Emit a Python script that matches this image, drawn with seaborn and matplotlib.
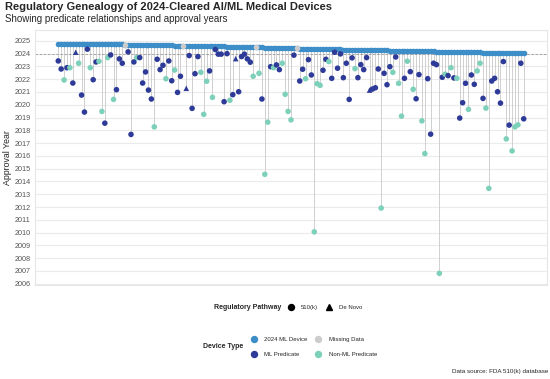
import numpy as np
import pandas as pd
import matplotlib.pyplot as plt
from matplotlib.lines import Line2D
import seaborn as sns

sns.set_theme(style="whitegrid")
plt.rcParams['font.family'] = ['Liberation Sans', 'DejaVu Sans']

nan = np.nan

# decision year of each 2024 device (left to right)
device_year = (
    [2024.79, 2024.79, 2024.78, 2024.78, 2024.78, 2024.77, 2024.77, 2024.77, 2024.76, 2024.76,
     2024.76, 2024.76, 2024.75, 2024.75, 2024.75, 2024.75, 2024.74, 2024.74, 2024.74, 2024.73,
     2024.73, 2024.73, 2024.72, 2024.71]
    + [2024.69, 2024.69, 2024.68, 2024.68, 2024.68, 2024.67, 2024.67, 2024.67, 2024.66, 2024.66,
       2024.66, 2024.65, 2024.65, 2024.65, 2024.64, 2024.64, 2024.63, 2024.63, 2024.63, 2024.62]
    + [2024.60, 2024.60, 2024.59, 2024.59, 2024.59, 2024.58, 2024.58, 2024.58, 2024.57, 2024.57,
       2024.57, 2024.56, 2024.56, 2024.56, 2024.55, 2024.55, 2024.55, 2024.54, 2024.54, 2024.54,
       2024.53, 2024.53, 2024.53, 2024.52, 2024.51]
    + [2024.49, 2024.49, 2024.48, 2024.48, 2024.48, 2024.47, 2024.47, 2024.46, 2024.46, 2024.46,
       2024.45, 2024.45, 2024.44, 2024.43]
    + [2024.38, 2024.38, 2024.37, 2024.37, 2024.37, 2024.36, 2024.36, 2024.35, 2024.35, 2024.35,
       2024.34, 2024.34, 2024.33, 2024.33, 2024.33, 2024.32, 2024.32, 2024.31, 2024.31, 2024.30,
       2024.30, 2024.29, 2024.29, 2024.28, 2024.28, 2024.27, 2024.27, 2024.26, 2024.26, 2024.25,
       2024.25, 2024.24, 2024.24, 2024.23, 2024.23, 2024.22, 2024.22, 2024.21, 2024.21, 2024.20,
       2024.20, 2024.19, 2024.19, 2024.18, 2024.18, 2024.17, 2024.17, 2024.16, 2024.16, 2024.15,
       2024.15, 2024.14, 2024.14, 2024.13, 2024.13, 2024.12, 2024.12, 2024.11, 2024.11, 2024.10,
       2024.10, 2024.09, 2024.09, 2024.08, 2024.08, 2024.07, 2024.07, 2024.07, 2024.06, 2024.06,
       2024.06, 2024.05, 2024.05, 2024.05, 2024.04, 2024.04, 2024.04, 2024.03]
)

# approval year of the predicate of each device (nan = missing)
pred_year = (
    [2023.43, 2022.80, 2021.94, 2022.90, 2022.90, 2021.70, 2024.11, 2023.25, 2020.76, 2019.43,
     2024.35, 2022.90, 2021.96, 2023.35, 2023.40, 2019.48, 2018.56, 2023.69, 2023.90, 2020.42,
     2021.18, 2023.59, 2023.25, nan]
    + [2024.14, 2017.68, 2023.35, 2023.69, 2023.69, 2021.70, 2022.57, 2021.15, 2020.45, 2018.27,
       2023.56, 2022.75, 2023.09, 2022.04, 2023.43, 2021.88, 2022.72, 2020.97, 2022.23, nan]
    + [2021.29, 2023.85, 2019.72, 2022.43, 2023.77, 2022.54, 2019.25, 2021.84, 2022.65, 2020.58,
       2024.32, 2023.96, 2023.96, 2020.24, 2024.00, 2020.35, 2020.79, 2023.61, 2021.02, 2023.77,
       2023.96, 2023.59, 2023.33, 2022.23, nan]
    + [2022.46, 2020.45, 2014.56, 2018.64, 2022.98, 2022.90, 2023.12, 2022.75, 2023.25, 2020.82,
       2019.48, 2018.82, 2023.88, nan]
    + [2021.86, 2022.78, 2022.04, 2023.53, 2022.33, 2010.06, 2021.65, 2021.52, 2022.70, 2023.56,
       2023.38, 2022.07, 2024.11, 2022.86, 2023.98, 2022.12, 2023.25, 2020.42, 2023.67, 2022.83,
       2022.12, 2023.14, 2022.75, 2023.69, 2021.15, 2021.23, 2021.33, 2022.80, 2011.92, 2022.46,
       2021.57, 2022.98, 2022.54, 2023.74, 2021.68, 2019.11, 2022.07, 2023.41, 2022.59, 2021.21,
       2020.47, 2022.36, 2018.74, 2016.18, 2022.04, 2017.70, 2023.25, 2023.14, 2006.81, 2022.15,
       2022.39, 2022.28, 2022.90, 2022.10, 2022.07, 2018.96, 2020.16, 2021.68, 2019.64, 2022.33,
       2021.60, 2022.65, 2023.25, 2020.50, 2019.74, 2013.46, 2021.86, 2022.07, 2021.02, 2020.13,
       2023.38, 2017.33, 2018.41, 2016.39, 2018.27, 2018.43, 2023.25, 2018.90]
)

# M = ML predicate, N = non-ML predicate, X = missing data
pred_type_codes = (
    "MMNMNMMNMM" "MNMMNNMNMN" "MMM" "X"
    "MMMNMMMMMN" "MMMNMMNMM" "X"
    "MMMMMNNNMN" "MMMMMNMMMM" "MMMN" "X"
    "NMNNMNMMNN" "NNM" "X"
    "MMNMMNNNMM" "NMMMMMMMMN" "MMMMMMMMNM" "MMNMNNMNMN"
    "MMNNMMMMNM" "NMNMNMMMNM" "MNNMNNMMMM" "MNMNNNMM"
)

# k = 510(k), d = De Novo
pathway_codes = (
    "kkkkkkdkkk" "kkkkkkkkkk" "kkk" "k"
    "kkkkkkkkkk" "kkkkkkkkk" "k"
    "dkkkkkkkkk" "kkkkkkkdkk" "kkkk" "k"
    "kkkkkkkkkk" "kkk" "k"
    "kkkkkkkkkk" "kkkkkkkkkk" "kkkkdkkkkk" "kkkkkkkkkk"
    "kkkkkkkkkk" "kkkkkkkkkk" "kkkkkkkkkk" "kkkkkkkk"
)

type_names = {"M": "ML Predicate", "N": "Non-ML Predicate", "X": "Missing Data"}
path_names = {"k": "510(k)", "d": "De Novo"}

palette = {
    "2024 ML Device": "#3C8DC8",
    "ML Predicate": "#2D3A97",
    "Non-ML Predicate": "#7DD0B9",
    "Missing Data": "#CCCCCC",
}

df = pd.DataFrame({
    "device": np.arange(len(device_year)),
    "device_year": device_year,
    "pred_year": pred_year,
    "pred_type": [type_names[c] for c in pred_type_codes],
    "pathway": [path_names[c] for c in pathway_codes],
})
has_pred = df.dropna(subset=["pred_year"])
missing = df[df["pred_type"] == "Missing Data"]

fig = plt.figure(figsize=(5.5, 3.79), dpi=100)
ax = fig.add_axes([35 / 550, 1 - 285 / 379, 512 / 550, 255 / 379])

# connecting lines and the 2024 reference line
ax.vlines(has_pred["device"], has_pred["pred_year"], has_pred["device_year"],
          color="#c9c9c9", lw=0.6, zorder=1)
ax.axhline(2024, color="#9a9a9a", lw=0.6, ls=(0, (3, 2)), zorder=1.5)

sns.scatterplot(data=df, x="device", y="device_year", color=palette["2024 ML Device"],
                s=16, linewidth=0, ax=ax, zorder=2, legend=False)
sns.scatterplot(data=missing, x="device", y="device_year", color=palette["Missing Data"],
                s=16, linewidth=0, ax=ax, zorder=3, legend=False)
sns.scatterplot(data=has_pred, x="device", y="pred_year", hue="pred_type", style="pathway",
                markers={"510(k)": "o", "De Novo": "^"}, palette=palette,
                s=16, linewidth=0, ax=ax, zorder=4, legend=False)

ax.set_xlim(-8, 168)
ax.set_ylim(2005.9, 2025.85)
ax.set_yticks(range(2006, 2026))
ax.set_xticks([])
ax.set_xlabel("")
ax.set_ylabel("Approval Year", fontsize=6.3, color="#222222")
ax.yaxis.set_label_coords(-0.045, 0.5)
ax.tick_params(axis="y", labelsize=5.2, colors="#555555", length=0, pad=3)
ax.grid(axis="y", color="#ebebeb", lw=0.8)
ax.grid(axis="x", visible=False)
for sp in ax.spines.values():
    sp.set_color("#e6e6e6")
    sp.set_linewidth(0.8)

fig.text(5 / 550, 1 - 7 / 379, "Regulatory Genealogy of 2024-Cleared AI/ML Medical Devices",
         fontsize=8, fontweight="bold", va="center", ha="left")
fig.text(5 / 550, 1 - 19 / 379, "Showing predicate relationships and approval years",
         fontsize=7, va="center", ha="left")
fig.text(548 / 550, 1 - 372 / 379, "Data source: FDA 510(k) database",
         fontsize=4.5, va="center", ha="right")

# legends
h1 = [Line2D([], [], marker="o", ls="", color="black", markersize=4.3),
      Line2D([], [], marker="^", ls="", color="black", markersize=4.3)]
fig.legend(h1, ["510(k)", "De Novo"], loc="center left",
           bbox_to_anchor=(288 / 550, 1 - 307.7 / 379), ncol=2, frameon=False,
           fontsize=4.3, handlelength=1, handletextpad=1.2, columnspacing=1.3,
           borderpad=0, borderaxespad=0)
fig.text(281 / 550, 1 - 307.7 / 379, "Regulatory Pathway", fontsize=5,
         fontweight="bold", va="center", ha="right")

order = ["2024 ML Device", "ML Predicate", "Missing Data", "Non-ML Predicate"]
h2 = [Line2D([], [], marker="o", ls="", color=palette[k], markersize=4.3) for k in order]
fig.legend(h2, order, loc="center left",
           bbox_to_anchor=(250.7 / 550, 1 - 346.7 / 379), ncol=2, frameon=False,
           fontsize=4.3, handlelength=1, handletextpad=1.25, columnspacing=1.33,
           labelspacing=1.6, borderpad=0, borderaxespad=0)
fig.text(243 / 550, 1 - 346.7 / 379, "Device Type", fontsize=5,
         fontweight="bold", va="center", ha="right")

fig.savefig("out.png", dpi=100)
